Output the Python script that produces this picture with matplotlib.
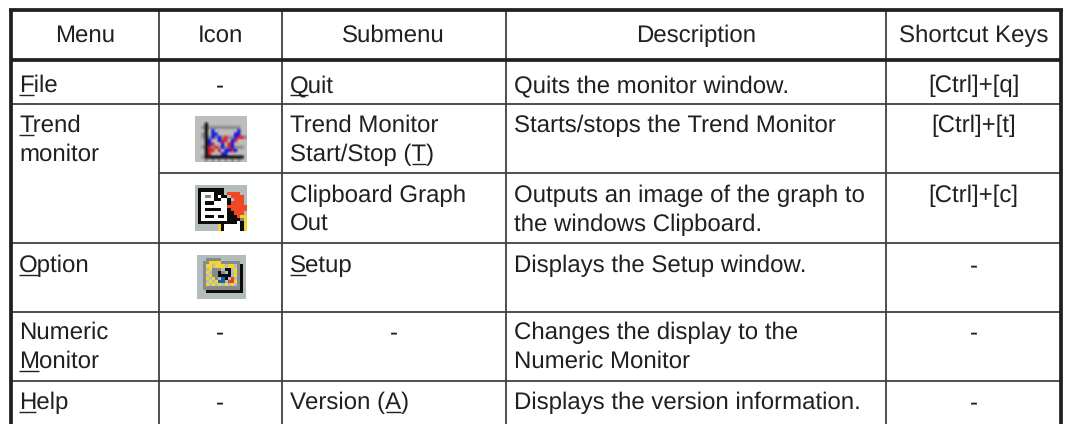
import matplotlib
matplotlib.use("Agg")
import matplotlib.pyplot as plt
from matplotlib.colors import to_rgb
import numpy as np

plt.rcParams["text.hinting"] = "no_hinting"
plt.rcParams["text.hinting_factor"] = 1

W, H = 1067, 424
INK = "#231f20"
LINE = "#3a3839"
FS = 17.0

# ---- content -------------------------------------------------------------
headers = ["Menu", "Icon", "Submenu", "Description", "Shortcut Keys"]
# (text line, index of underlined character or None)
menu_cells = [[("File", 0)], [("Trend", 0), ("monitor", None)], [],
              [("Option", 0)], [("Numeric", None), ("Monitor", 0)], [("Help", 0)]]
submenu_cells = [[("Quit", 0)], [("Trend Monitor", None), ("Start/Stop (T)", 12)],
                 [("Clipboard Graph", None), ("Out", None)], [("Setup", 0)],
                 [("-", "c")], [("Version (A)", 9)]]
description_cells = [["Quits the monitor window."], ["Starts/stops the Trend Monitor"],
                     ["Outputs an image of the graph to", "the windows Clipboard."],
                     ["Displays the Setup window."],
                     ["Changes the display to the", "Numeric Monitor"],
                     ["Displays the version information."]]
shortcut_cells = ["[Ctrl]+[q]", "[Ctrl]+[t]", "[Ctrl]+[c]", "-", "-", "-"]
icon_dash = [True, False, False, False, True, True]

icon_trend = [
    "................",
    "................",
    "...k............",
    "..gkgggggggggg..",
    "...k.b.......b..",
    "..gk.bb.....bb..",
    "..gkgbgbgrggbrrg",
    "...kb..brr.br...",
    "...kbr..b.rb....",
    "..gkrgrgbgrbggg.",
    "...krr.r.bbrb...",
    "...kr...bb......",
    "..gkkkkkkkkkkkk.",
    "...g.g.g.g.g.g..",
]
icon_clip = [
    "................",
    ".kkkkkkkk.......",
    ".kwwwwkkk.rrrr..",
    ".kwggwkwkk.rrrr.",
    ".kwwwwkkwwk.rrr.",
    ".kwkkkwwwwkrrrr.",
    ".kwwwwwwwwrrrrrr",
    ".kwkkkkkwwkrrrrr",
    ".kwwwwwwwwkkrrr.",
    ".kwkkkwkkwkkkryy",
    ".kwwwwwwwwkkkkgy",
    ".kkkkkkkkkkkkwky",
    ".......ykwwwwwky",
    ".......ykwwwwwky",
]
icon_folder = [
    "................",
    "...ggggg........",
    "..ggyyyygggggg..",
    "..gyy.yyy.yy.gk.",
    "..g.yggg.kk.ygk.",
    "..gy.ggkg.k.ygk.",
    "..g.yggkkkk.ygk.",
    "..gy.yg.bk.r.gk.",
    "..g.y.ybb.rrygk.",
    "..gy.y.y.y.y.gk.",
    "..ggggggggggggk.",
    "...kkkkkkkkkkkk.",
    "................",
    "................",
]
trend_colors = {".": "#bdbdbd", "g": "#8e8e8e", "k": "#151515", "b": "#1a1ae6", "r": "#e6202a"}
clip_colors = {".": "#b3bcbc", "k": "#0c0c0c", "w": "#ffffff", "g": "#808585", "r": "#ee4a26", "y": "#f6d12c"}
folder_colors = {".": "#b3bcbc", "g": "#858a8a", "k": "#0c0c0c", "y": "#f5d42e", "b": "#1760a8", "r": "#e2472a"}

# ---- layout (pixels) -----------------------------------------------------
col_x = [11, 158.5, 281.5, 505.5, 886, 1061]
row_y = [10, 60, 104, 173, 243, 312, 381, 424]
line_h = 29
first_base = [92, 132, 202, 272, 339, 409]
icon_boxes = [None, (195, 247, 116, 162), (195, 247, 185, 231), (197, 246, 255, 299)]

fig = plt.figure(figsize=(W / 100, H / 100), dpi=100)
ax = fig.add_axes([0, 0, 1, 1])
ax.set_xlim(0, W)
ax.set_ylim(H, 0)
ax.axis("off")
plt.rcParams["font.family"] = ["Liberation Sans"]
renderer = fig.canvas.get_renderer()


def width(s):
    t = ax.text(0, 0, s, fontsize=FS)
    w = t.get_window_extent(renderer).width
    t.remove()
    return w


def put(x, y, s, ha="left", under=None):
    ax.text(x, y, s, fontsize=FS, color=INK, ha=ha, va="baseline", zorder=3)
    if under is not None:
        x0 = x + (width(s[:under]) + 1.5 if under else 0)
        x1 = x + width(s[:under + 1])
        ax.plot([x0, x1], [y + 3, y + 3], color=INK, lw=1.0, solid_capstyle="butt", zorder=3)


def hline(y, x0, x1, lw=1.15, c=LINE):
    ax.plot([x0, x1], [y, y], color=c, lw=lw, solid_capstyle="butt", zorder=2)


def vline(x, y0, y1, lw=1.15, c=LINE):
    ax.plot([x, x], [y0, y1], color=c, lw=lw, solid_capstyle="butt", zorder=2)


# grid
for x in col_x[1:-1]:
    vline(x, row_y[0], H, lw=1.25)
for i, y in enumerate(row_y[2:-1]):
    hline(y, col_x[1] if y == 173 else col_x[0], col_x[-1], lw=1.25)
hline(row_y[1], col_x[0], col_x[-1], lw=2.7, c=INK)
hline(row_y[0], col_x[0] - 2, col_x[-1] + 2, lw=2.7, c=INK)
vline(col_x[0], row_y[0], H, lw=2.7, c=INK)
vline(col_x[-1], row_y[0], H, lw=2.7, c=INK)

# header
centers = [(col_x[i] + col_x[i + 1]) / 2 for i in range(5)]
for cx, h in zip(centers, headers):
    put(cx, 42, h, ha="center")

# body
tx = [c + 8 for c in col_x]
for r, base in enumerate(first_base):
    for k, (s, u) in enumerate(menu_cells[r]):
        put(tx[0], base + k * line_h, s, under=u)
    if icon_dash[r]:
        put(centers[1], base, "-", ha="center")
    for k, (s, u) in enumerate(submenu_cells[r]):
        if u == "c":
            put(centers[2], base, s, ha="center")
        else:
            put(tx[2], base + k * line_h, s, under=u)
    for k, s in enumerate(description_cells[r]):
        put(tx[3], base + k * line_h, s)
    put(centers[4], base, shortcut_cells[r], ha="center")


# icons
def draw_icon(rows, palette, box, interp):
    arr = np.array([[to_rgb(palette[ch]) for ch in row] for row in rows])
    x0, x1, y0, y1 = box
    ax.imshow(arr, extent=(x0, x1, y1, y0), interpolation=interp, aspect="auto", zorder=3)


draw_icon(icon_trend, trend_colors, icon_boxes[1], "bilinear")
draw_icon(icon_clip, clip_colors, icon_boxes[2], "nearest")
draw_icon(icon_folder, folder_colors, icon_boxes[3], "nearest")
ax.set_xlim(0, W)
ax.set_ylim(H, 0)

fig.savefig("out.png", dpi=100, facecolor="white")
